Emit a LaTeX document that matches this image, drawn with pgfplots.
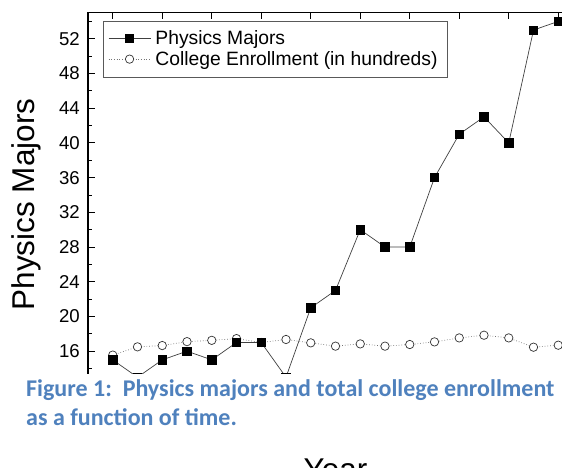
\documentclass[border=0pt]{standalone}
\usepackage{pgfplots}
\pgfplotsset{compat=1.18}
\usepackage{fontspec}
\setmainfont{Liberation Sans}
\newfontfamily\capfont{Carlito}
\definecolor{capblue}{RGB}{79,129,189}

\begin{document}
\begin{tikzpicture}
\useasboundingbox (0,0) rectangle (562pt,467pt);
\clip (0,0) rectangle (562pt,467pt);
\begin{axis}[
  at={(88pt,454.3pt)}, anchor=north west,
  scale only axis, width=495pt, height=373.2pt,
  xmin=-1, xmax=19, ymin=12, ymax=55,
  xtick={0,2,...,18}, xticklabels={},
  ytick={16,20,...,52}, minor ytick={14,18,...,54},
  tick align=inside, major tick length=6.5pt, minor tick length=4pt,
  tick style={black, line width=0.9pt},
  axis line style={line width=1.1pt},
  /pgf/number format/assume math mode=true,
  yticklabel style={font=\fontsize{18.6}{20}\selectfont, inner sep=0pt, xshift=-8pt},
  ylabel={Physics Majors},
  ylabel style={at={([xshift=-53pt]axis description cs:0,0.486)}, anchor=base, font=\fontsize{31.5}{36}\selectfont},
  xlabel={Year},
  xlabel style={at={([yshift=-94.1pt]axis description cs:0.5,0)}, anchor=base, font=\fontsize{31.5}{36}\selectfont},
  legend image code/.code={\draw[#1, mark repeat=2, mark phase=2] plot coordinates {(0pt,0pt) (21pt,0pt) (42pt,0pt)};},
  legend style={at={(axis description cs:0.0303,0.9786)}, anchor=north west, draw=black!65, font=\fontsize{19.3}{22}\selectfont, row sep=2pt, inner xsep=5pt, inner ysep=8.5pt, nodes={inner ysep=1.5pt, inner xsep=4.5pt}},
  legend cell align=left,
  reverse legend,
]
\addplot[color=black!55, line width=0.7pt, dotted, mark=*, mark size=4.2pt, mark options={solid, draw=black!80, fill=white, line width=0.7pt}] coordinates {
(0,15.55) (1,16.5) (2,16.65) (3,17.1) (4,17.25) (5,17.45) (6,17.0) (7,17.35) (8,16.96) (9,16.58)
(10,16.84) (11,16.58) (12,16.77) (13,17.07) (14,17.53) (15,17.84) (16,17.53) (17,16.46) (18,16.69)};
\addlegendentry{College Enrollment (in hundreds)}
\addplot[color=black!75, line width=0.7pt, mark=square*, mark size=4.2pt, mark options={solid, fill=black, draw=black}] coordinates {
(0,15) (1,13) (2,15) (3,16) (4,15) (5,17) (6,17) (7,13) (8,21) (9,23)
(10,30) (11,28) (12,28) (13,36) (14,41) (15,43) (16,40) (17,53) (18,54)};
\addlegendentry{Physics Majors}
\end{axis}
\fill[white] (0,14pt) rectangle (562pt,93pt);
\node[anchor=base west, inner sep=0pt, font=\capfont\bfseries\fontsize{24}{28}\selectfont, text=capblue] at (26pt,70.3pt) {Figure 1:\ \ Physics majors and total college enrollment};
\node[anchor=base west, inner sep=0pt, font=\capfont\bfseries\fontsize{24}{28}\selectfont, text=capblue] at (26pt,42pt) {as a function of time.};
\end{tikzpicture}
\end{document}
